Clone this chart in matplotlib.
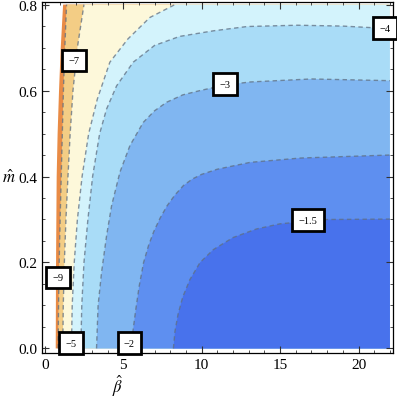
import matplotlib
matplotlib.use('Agg')
import matplotlib.pyplot as plt
from matplotlib.ticker import MultipleLocator

plt.rcParams['font.family'] = ['Liberation Serif', 'DejaVu Serif']
plt.rcParams['mathtext.fontset'] = 'stix'

# contour levels and band colours (lowest band first)
levels = [-9, -7, -5, -4, -3, -2, -1.5]
band_colors = ['#e98b45', '#f3cd85', '#fdf8da', '#d3f3fc', '#a9dcf7',
               '#80b6f1', '#5e8ff0', '#4872ec']

# left edge of the defined region (beta, m)
edge_beta = [0.70, 0.71, 0.72, 0.74, 0.76, 0.82, 0.91, 1.02, 1.17]
edge_m = [0.0, 0.1, 0.2, 0.3, 0.4, 0.5, 0.6, 0.7, 0.8]

# contour curves
c9_beta = [0.85, 0.88, 0.92, 0.98, 1.05, 1.12, 1.19, 1.28, 1.39]
c9_m = [0.0, 0.1, 0.2, 0.3, 0.4, 0.5, 0.6, 0.7, 0.8]
c7_beta = [1.15, 1.18, 1.25, 1.35, 1.48, 1.62, 1.80, 2.08, 2.50]
c7_m = [0.0, 0.1, 0.2, 0.3, 0.4, 0.5, 0.6, 0.7, 0.8]
c5_beta = [1.70, 1.75, 1.88, 2.08, 2.38, 2.80, 3.35, 4.15, 5.30, 6.70, 8.30]
c5_m = [0.0, 0.1, 0.2, 0.3, 0.4, 0.5, 0.58, 0.666, 0.72, 0.77, 0.8]
c4_beta = [2.30, 2.36, 2.50, 2.75, 3.05, 3.50, 3.94, 4.58, 5.64, 7.0, 8.6,
           10.75, 12.9, 16.1, 19.0, 22.0]
c4_m = [0.0, 0.1, 0.2, 0.3, 0.4, 0.5, 0.557, 0.611, 0.666, 0.705, 0.726,
        0.739, 0.749, 0.752, 0.750, 0.744]
c3_beta = [3.30, 3.40, 3.62, 3.94, 4.26, 4.79, 5.43, 6.28, 7.0, 7.78, 8.8,
           9.9, 11.5, 13.1, 17.0, 22.0]
c3_m = [0.0, 0.1, 0.177, 0.262, 0.332, 0.41, 0.472, 0.526, 0.553, 0.573,
        0.59, 0.60, 0.613, 0.62, 0.627, 0.623]
c2_beta = [5.50, 5.62, 5.80, 6.02, 6.30, 6.62, 6.95, 7.35, 7.80, 8.30, 8.84,
           9.40, 10.0, 11.0, 13.1, 16.3, 22.0]
c2_m = [0.0, 0.04, 0.09, 0.145, 0.20, 0.24, 0.272, 0.303, 0.332, 0.357,
        0.379, 0.394, 0.405, 0.417, 0.433, 0.443, 0.45]
c15_beta = [8.20, 8.30, 8.50, 8.80, 9.25, 9.90, 10.75, 12.0, 13.5, 15.0,
            18.0, 22.0]
c15_m = [0.0, 0.04, 0.08, 0.12, 0.16, 0.20, 0.23, 0.258, 0.278, 0.29,
         0.30, 0.301]

curves = [(c9_beta, c9_m), (c7_beta, c7_m), (c5_beta, c5_m), (c4_beta, c4_m),
          (c3_beta, c3_m), (c2_beta, c2_m), (c15_beta, c15_m)]

# label positions (beta, m) for each level
label_pos = [(0.83, 0.165), (1.85, 0.67), (1.7, 0.012), (21.7, 0.745),
             (11.5, 0.615), (5.4, 0.012), (16.8, 0.298)]

beta_max = 22.0
m_max = 0.8

fig = plt.figure(figsize=(3.97, 4.02), dpi=100)
ax = fig.add_axes([0.106, 0.119, 0.884, 0.8735])

# base band: everything right of the left edge
xs = edge_beta + [beta_max, beta_max]
ys = edge_m + [m_max, 0.0]
ax.fill(xs, ys, color=band_colors[0], lw=0)

# each following band covers the region right/below its lower contour
for (cb, cm), col in zip(curves, band_colors[1:]):
    xs = list(cb)
    ys = list(cm)
    if ys[-1] >= m_max:
        xs += [beta_max, beta_max]
        ys += [m_max, 0.0]
    else:
        xs += [beta_max]
        ys += [0.0]
    ax.fill(xs, ys, color=col, lw=0)

for cb, cm in curves:
    ax.plot(cb, cm, color='#5f6f82', alpha=0.75, lw=1.0, dashes=(3.2, 2.4))

for lev, (bx, by) in zip(levels, label_pos):
    txt = ('%g' % lev).replace('-', '\u2212')
    ax.text(bx, by, txt, ha='center', va='center', fontsize=7.5,
            bbox=dict(boxstyle='square,pad=0.62', fc='white', ec='black', lw=2.0),
            zorder=5)

ax.set_xlim(-0.17, 22.2)
ax.set_ylim(-0.011, 0.806)
ax.xaxis.set_major_locator(MultipleLocator(5))
ax.xaxis.set_minor_locator(MultipleLocator(1))
ax.yaxis.set_major_locator(MultipleLocator(0.2))
ax.yaxis.set_minor_locator(MultipleLocator(0.05))
ax.yaxis.set_major_formatter(matplotlib.ticker.FormatStrFormatter('%.1f'))
ax.tick_params(which='both', direction='in', top=True, right=True,
               labelsize=11, color='#333333')
ax.tick_params(which='major', length=5, width=0.8)
ax.tick_params(which='minor', length=2.5, width=0.6)
for sp in ax.spines.values():
    sp.set_linewidth(0.9)

ax.set_xlabel(r'$\hat{\beta}$', fontsize=12)
ax.xaxis.set_label_coords(0.216, -0.055)
ax.set_ylabel(r'$\hat{m}$', fontsize=12, rotation=0, va='center')
ax.yaxis.set_label_coords(-0.095, 0.5)

plt.savefig('out.png', dpi=100)
